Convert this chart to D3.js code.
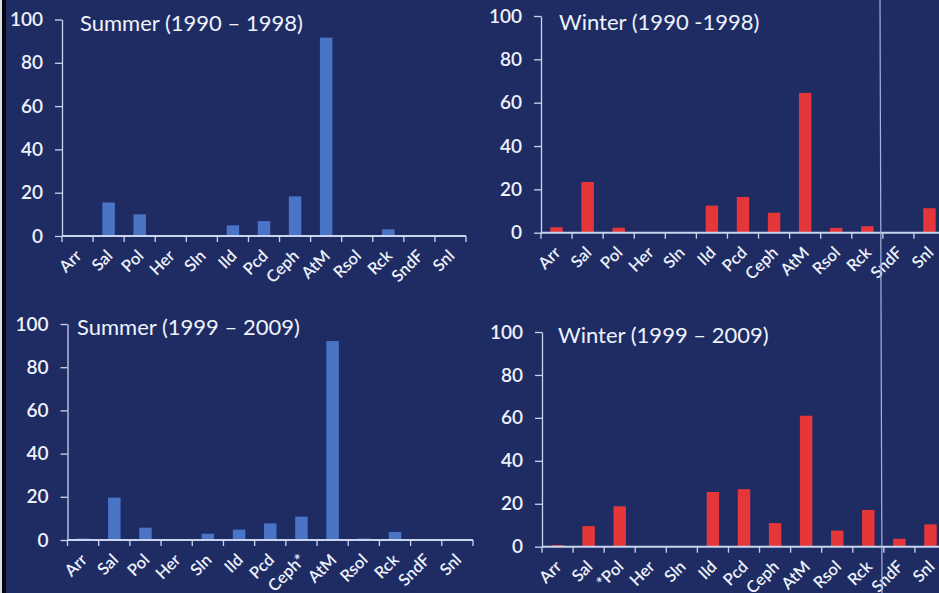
<!doctype html>
<html>
  <head>
    <meta charset="utf-8">
    <title>Summer / Winter</title>
    <script src="https://cdn.jsdelivr.net/npm/d3@7"></script>
    <style>
      body { margin: 0; background: #1f2c64; }
      svg { display: block; }
      text { font-family: Lato, "Open Sans", sans-serif; fill: #eef2fb; }
    </style>
  </head>
  <body>
    <script>
      // categories (shared) and the label variants used in each panel
      const categories = ['Arr', 'Sal', 'Pol', 'Her', 'Sln', 'Ild', 'Pcd', 'Ceph', 'AtM', 'Rsol', 'Rck', 'SndF', 'Snl'];
      const labelsSummer2 = ['Arr', 'Sal', 'Pol', 'Her', 'Sln', 'Ild', 'Pcd', 'Ceph*', 'AtM', 'Rsol', 'Rck', 'SndF', 'Snl'];
      const labelsWinter2 = ['Arr', 'Sal', '*Pol', 'Her', 'Sln', 'Ild', 'Pcd', 'Ceph', 'AtM', 'Rsol', 'Rck', 'SndF', 'Snl'];

      // percentages
      const summer1 = [0.2, 15.5, 10, 0, 0.3, 4.9, 6.9, 18.3, 91.6, 0, 3.1, 0, 0.3];
      const winter1 = [2.5, 23.4, 2.3, 0, 0, 12.5, 16.5, 9.2, 64.5, 2.2, 3, 0.3, 11.3];
      const summer2 = [0.7, 19.6, 5.7, 0, 2.9, 4.8, 7.7, 10.8, 92.1, 0.7, 3.7, 0, 0.3];
      const winter2 = [0.8, 9.6, 18.8, 0, 0.2, 25.5, 26.8, 11, 61, 7.5, 17.1, 3.7, 10.4];

      const yTicks = [0, 20, 40, 60, 80, 100];

      const width = 939;
      const height = 593;
      const blue = '#4a74c6';
      const red = '#e5363a';
      const axisColor = '#c9d5ee';

      const svg = d3.select('body').append('svg')
          .attr('width', width)
          .attr('height', height);

      svg.append('rect')
          .attr('width', width).attr('height', height)
          .attr('fill', '#1f2c64');

      // left edge of the scanned slide
      svg.append('rect').attr('x', 0).attr('width', 2).attr('height', height).attr('fill', '#d8dde8');
      svg.append('rect').attr('x', 2).attr('width', 4).attr('height', height).attr('fill', '#05070d');

      const panels = [
        { title: 'Summer (1990 – 1998)', values: summer1, labels: categories, color: blue,
          x0: 62, x1: 466, y0: 236, y100: 19.5, tx: 80, ty: 31 },
        { title: 'Winter (1990 -1998)', values: winter1, labels: categories, color: red,
          x0: 541, x1: 945, y0: 232.7, y100: 16, tx: 559, ty: 30 },
        { title: 'Summer (1999 – 2009)', values: summer2, labels: labelsSummer2, color: blue,
          x0: 67.5, x1: 473, y0: 540, y100: 324, tx: 77, ty: 335 },
        { title: 'Winter (1999 – 2009)', values: winter2, labels: labelsWinter2, color: red,
          x0: 542, x1: 946, y0: 546.7, y100: 332, tx: 558, ty: 343 }
      ];

      panels.forEach(p => {
        const g = svg.append('g');

        const x = d3.scaleBand()
            .domain(categories)
            .range([p.x0, p.x1])
            .padding(0);

        const y = d3.scaleLinear()
            .domain([0, 100])
            .range([p.y0, p.y100]);

        const step = x.step();

        // bars
        g.append('g')
          .selectAll('rect')
          .data(p.values)
          .join('rect')
            .attr('x', (d, i) => x(categories[i]) + step * 0.3)
            .attr('width', step * 0.4)
            .attr('y', d => y(d))
            .attr('height', d => Math.max(0, y(0) - y(d)))
            .attr('fill', p.color);

        // y axis
        const yAxis = g.append('g')
            .attr('transform', `translate(${p.x0},0)`)
            .call(d3.axisLeft(y).tickValues(yTicks).tickSize(7).tickSizeOuter(0).tickPadding(12));
        yAxis.select('.domain').attr('stroke', axisColor).attr('stroke-width', 1.3);
        yAxis.selectAll('.tick line').attr('stroke', axisColor).attr('stroke-width', 1.3);
        yAxis.selectAll('.tick text')
            .attr('font-size', 19)
            .attr('font-weight', 600)
            .attr('fill', '#eef2fb');

        // x axis line and boundary ticks
        g.append('line')
            .attr('x1', p.x0).attr('x2', p.x1)
            .attr('y1', y(0)).attr('y2', y(0))
            .attr('stroke', axisColor).attr('stroke-width', 2);

        const bounds = categories.map(c => x(c)).concat([p.x1]);
        g.append('g')
          .selectAll('line')
          .data(bounds)
          .join('line')
            .attr('x1', d => d).attr('x2', d => d)
            .attr('y1', y(0)).attr('y2', y(0) + 6)
            .attr('stroke', axisColor).attr('stroke-width', 1.3);

        // rotated category labels
        g.append('g')
          .selectAll('text')
          .data(p.labels)
          .join('text')
            .attr('transform', (d, i) => `translate(${x(categories[i]) + step / 2 + 5},${y(0) + 21}) rotate(-45)`)
            .attr('text-anchor', 'end')
            .attr('font-size', 16.5)
            .attr('font-weight', 600)
            .text(d => d);

        // title
        g.append('text')
            .attr('x', p.tx)
            .attr('y', p.ty)
            .attr('font-size', 22)
            .text(p.title);
      });

      // vertical divider on the right
      svg.append('line')
          .attr('x1', 880).attr('x2', 882)
          .attr('y1', 0).attr('y2', height)
          .attr('stroke', '#9fb4de')
          .attr('stroke-width', 1.2);
    </script>
  </body>
</html>
